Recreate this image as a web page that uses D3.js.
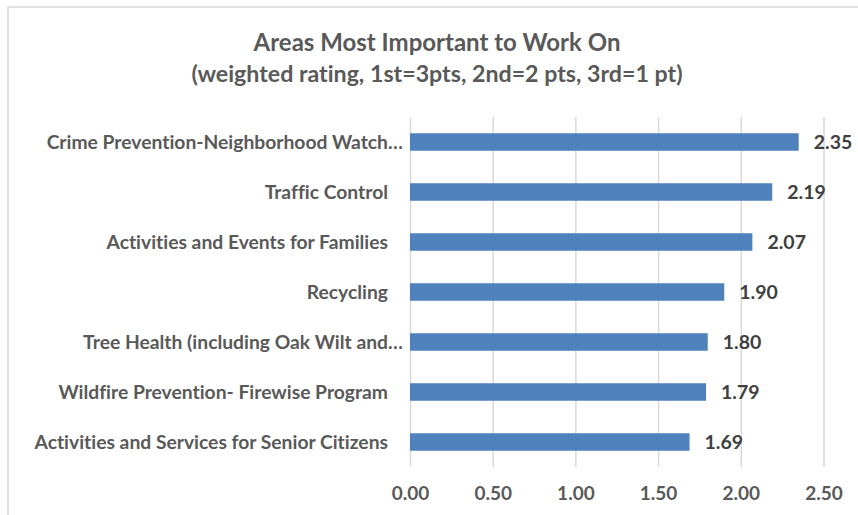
<!DOCTYPE html>
<html>
<head>
<meta charset="utf-8">
<script src="https://cdn.jsdelivr.net/npm/d3@7"></script>
<style>
  body { margin: 0; background: #fff; }
  text { font-family: Lato, "Open Sans", sans-serif; font-weight: bold; font-variant-ligatures: none; }
</style>
</head>
<body>
<div id="chart"></div>
<script>
// chart data, top to bottom
var categories = [
  "Crime Prevention-Neighborhood Watch…",
  "Traffic Control",
  "Activities and Events for Families",
  "Recycling",
  "Tree Health (including Oak Wilt and…",
  "Wildfire Prevention- Firewise Program",
  "Activities and Services for Senior Citizens"
];
var ratings = [2.35, 2.19, 2.07, 1.90, 1.80, 1.79, 1.69];
var xTicks = [0, 0.5, 1, 1.5, 2, 2.5];
var titleLines = [
  "Areas Most Important to Work On",
  "(weighted rating, 1st=3pts, 2nd=2 pts, 3rd=1 pt)"
];

var svgWidth = 858;
var svgHeight = 515;

// plot area inside the svg
var margin = { top: 117, right: 34.5, bottom: 48, left: 410 };
var width = svgWidth - margin.left - margin.right;
var height = svgHeight - margin.top - margin.bottom;

var svg = d3.select("#chart")
  .append("svg")
  .attr("width", svgWidth)
  .attr("height", svgHeight);

// chart border (right and bottom edges fall off the picture)
svg.append("rect")
  .attr("x", 8)
  .attr("y", 7)
  .attr("width", 900)
  .attr("height", 600)
  .attr("fill", "none")
  .attr("stroke", "#d9d9d9")
  .attr("stroke-width", 1.5);

// title
svg.selectAll("text.title")
  .data(titleLines)
  .enter()
  .append("text")
  .attr("class", "title")
  .attr("x", 437)
  .attr("y", (d, i) => 51 + i * 31)
  .attr("text-anchor", "middle")
  .attr("fill", "#595959")
  .style("font-size", (d, i) => i == 0 ? "24px" : "23.2px")
  .text(d => d);

var chartGroup = svg.append("g")
  .attr("transform", `translate(${margin.left}, ${margin.top})`);

var xScale = d3.scaleLinear()
  .domain([0, 2.5])
  .range([0, width]);

var yScale = d3.scaleBand()
  .domain(categories)
  .range([0, height])
  .paddingInner(0.65)
  .paddingOuter(0.325);

// gridlines + tick labels
var bottomAxis = d3.axisBottom(xScale)
  .tickValues(xTicks)
  .tickFormat(d3.format(".2f"))
  .tickSize(-height)
  .tickPadding(20);

var xAxisGroup = chartGroup.append("g")
  .attr("transform", `translate(0, ${height})`)
  .call(bottomAxis);
xAxisGroup.select(".domain").remove();
xAxisGroup.selectAll("line")
  .attr("stroke", "#d9d9d9")
  .attr("stroke-width", 1.5);
xAxisGroup.selectAll("text")
  .attr("fill", "#595959")
  .style("font-size", "19px");

// bars
chartGroup.selectAll("rect.bar")
  .data(ratings)
  .enter()
  .append("rect")
  .attr("class", "bar")
  .attr("x", xScale(0))
  .attr("y", (d, i) => yScale(categories[i]))
  .attr("width", d => xScale(d))
  .attr("height", yScale.bandwidth())
  .attr("fill", "#4f81bd");

// value labels
chartGroup.selectAll("text.value")
  .data(ratings)
  .enter()
  .append("text")
  .attr("class", "value")
  .attr("x", d => xScale(d) + 15)
  .attr("y", (d, i) => yScale(categories[i]) + yScale.bandwidth() / 2)
  .attr("dy", "0.35em")
  .attr("fill", "#404040")
  .style("font-size", "19.5px")
  .text(d => d.toFixed(2));

// category labels, truncated ones keep their ellipsis past the right edge
var labelGroup = chartGroup.selectAll("g.cat")
  .data(categories)
  .enter()
  .append("g")
  .attr("class", "cat")
  .attr("transform", d => `translate(-22, ${yScale(d) + yScale.bandwidth() / 2})`);

labelGroup.append("text")
  .attr("text-anchor", "end")
  .attr("dy", "0.35em")
  .attr("fill", "#595959")
  .style("font-size", "19.3px")
  .text(d => d.replace("…", ""));

labelGroup.filter(d => d.endsWith("…"))
  .append("text")
  .attr("dy", "0.35em")
  .attr("fill", "#595959")
  .style("font-size", "19.3px")
  .text("…");
</script>
</body>
</html>
